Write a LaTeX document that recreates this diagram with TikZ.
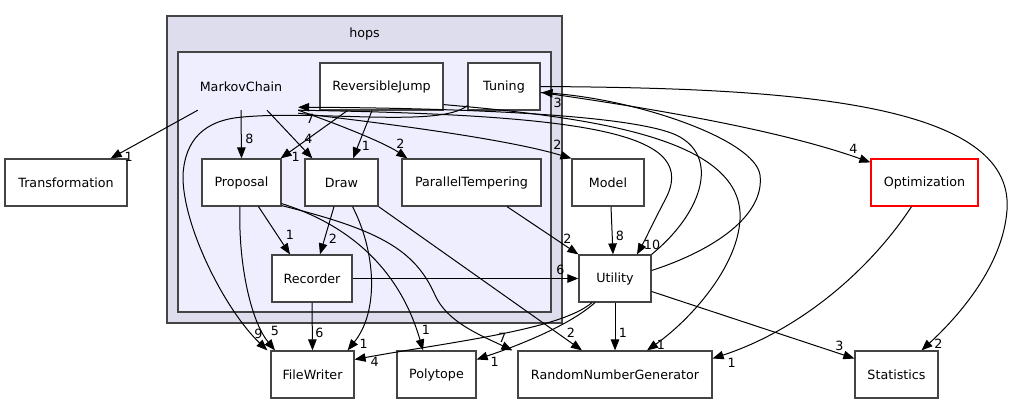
\documentclass[tikz,border=0pt]{standalone}
\usepackage{fontspec}
\setmainfont{DejaVu Sans}
\usetikzlibrary{arrows.meta}

\definecolor{hopsfill}{HTML}{DDDDEE}
\definecolor{chainfill}{HTML}{EEEEFF}
\definecolor{framegray}{HTML}{444444}

\begin{document}
\begin{tikzpicture}[x=1pt, y=-1pt,
  font=\fontsize{12.7}{15}\selectfont,
  dirbox/.style={draw=framegray, fill=white, line width=1.2pt, inner sep=0pt, minimum height=47pt},
  cluster/.style={draw=framegray, line width=1.5pt, inner sep=0pt},
  dep/.style={-{Triangle[length=11pt,width=8.5pt]}, line width=1pt},
  num/.style={inner sep=0pt}]

\useasboundingbox (0,0) rectangle (1012,404);

% Directory clusters
\node[cluster, fill=hopsfill, minimum width=395pt, minimum height=307pt] (hops) at (364.5,169.5) {};
\node (hopslabel) at (364.5,34) {hops};
\node[cluster, fill=chainfill, minimum width=373pt, minimum height=260pt] (chain) at (364.5,182) {};

% Directory nodes
\node[minimum width=114pt, minimum height=47pt, inner sep=0pt] (markovchain) at (241,86.5) {MarkovChain};
\node[dirbox, minimum width=123pt] (reversiblejump) at (381.5,86.5) {ReversibleJump};
\node[dirbox, minimum width=72pt] (tuning) at (504,86.5) {Tuning};
\node[dirbox, minimum width=79pt] (proposal) at (241.5,182.5) {Proposal};
\node[dirbox, minimum width=73pt] (draw) at (341.5,182.5) {Draw};
\node[dirbox, minimum width=139pt] (paralleltempering) at (471.5,182.5) {ParallelTempering};
\node[dirbox, minimum width=80pt] (recorder) at (312,278.5) {Recorder};
\node[dirbox, minimum width=72pt] (model) at (608,182.5) {Model};
\node[dirbox, minimum width=72pt] (utility) at (615,278.5) {Utility};
\node[dirbox, minimum width=122pt] (transformation) at (66,182.5) {Transformation};
\node[dirbox, draw=red, minimum width=107pt] (optimization) at (924.5,182.5) {Optimization};
\node[dirbox, minimum width=83pt] (filewriter) at (312.5,374.5) {FileWriter};
\node[dirbox, minimum width=79pt] (polytope) at (436.5,374.5) {Polytope};
\node[dirbox, minimum width=194pt] (randomnumbergenerator) at (615,374.5) {RandomNumberGenerator};
\node[dirbox, minimum width=83pt] (statistics) at (896.5,374.5) {Statistics};

% Dependencies inside hops
\draw[dep] ([shift={(14,0)}]markovchain.south west) -- ([shift={(-17,0)}]transformation.north east) node[num, at end, shift={(18,-2)}] {1};
\draw[dep] (markovchain.south) -- (proposal.north) node[num, at end, shift={(8,-20)}] {8};
\draw[dep] ([shift={(26,0)}]markovchain.south) -- ([shift={(8,0)}]draw.north west) node[num, at end, shift={(-4,-20)}] {4};
\draw[dep] ([shift={(28,0)}]reversiblejump.south west) -- ([shift={(-1,0)}]proposal.north east) node[num, at end, shift={(15,-2)}] {1};
\draw[dep] ([shift={(-9.5,0)}]reversiblejump.south) -- ([shift={(11.5,0)}]draw.north) node[num, at end, shift={(13,-13)}] {1};
\draw[dep] (markovchain.south east) .. controls (340,125) and (385,143) .. ([shift={(6,0)}]paralleltempering.north west) node[num, at end, shift={(-7,-15)}] {2};
\draw[dep] ([shift={(0,3)}]markovchain.south east) .. controls (400,125) and (510,140) .. (model.north west) node[num, at end, shift={(-14,-14)}] {2};
\draw[dep] (markovchain.south east) .. controls (600,115) and (700,135) .. (665,200) .. controls (656,217) and (645,240) .. ([shift={(22,0)}]utility.north) node[num, at end, shift={(15,-10)}] {10};
\draw[dep] (utility.north east) .. controls (700,215) and (720,160) .. (680,137) .. controls (640,114) and (450,108) .. ([shift={(0,-3)}]markovchain.south east) node[num, at end, shift={(12,12)}] {7};
\draw[dep] ([shift={(0,-6)}]reversiblejump.south east) .. controls (600,118) and (745,140) .. (740,220) .. controls (737,268) and (690,320) .. ([shift={(32,0)}]randomnumbergenerator.north) node[num, at end, shift={(14,-6)}] {1};
\draw[dep] ([shift={(0,-8)}]utility.east) .. controls (715,250) and (765,215) .. (760,175) .. controls (755,140) and (640,100) .. ([shift={(1,6)}]tuning.east) node[num, at end, shift={(16,10)}] {3};
\draw[dep] ([shift={(0,6)}]tuning.east) .. controls (650,108) and (780,130) .. ([shift={(0,4)}]optimization.north west) node[num, at end, shift={(-17,-14)}] {4};
\draw[dep] (tuning.east) .. controls (780,88) and (1015,100) .. (1007,210) .. controls (1003,265) and (960,315) .. ([shift={(25,0)}]statistics.north) node[num, at end, shift={(17,-7)}] {2};
\draw[dep] ([shift={(-13,0)}]optimization.south) .. controls (870,270) and (800,330) .. ([shift={(0,-16)}]randomnumbergenerator.east) node[num, at end, shift={(19,4)}] {1};

% Dependencies towards Recorder and Utility
\draw[dep] ([shift={(17,0)}]proposal.south) -- ([shift={(-22,0)}]recorder.north) node[num, at end, shift={(0,-20)}] {1};
\draw[dep] ([shift={(-7.5,0)}]draw.south) -- ([shift={(8,0)}]recorder.north) node[num, at end, shift={(13,-16)}] {2};
\draw[dep] ([shift={(35.5,0)}]paralleltempering.south) -- (utility.north west) node[num, at end, shift={(-11,-16)}] {2};
\draw[dep] ([shift={(3,0)}]model.south) -- ([shift={(-2,0)}]utility.north) node[num, at end, shift={(7,-19)}] {8};
\draw[dep] (recorder.east) -- (utility.west) node[num, at end, shift={(-18,-9)}] {6};

% Dependencies towards the bottom row
\draw[dep] ([shift={(0,-5)}]tuning.south west) .. controls (440,128) and (320,110) .. (243,117) .. controls (204,120) and (185,140) .. (183,175) .. controls (182,225) and (225,310) .. ([shift={(-3,0)}]filewriter.north west) node[num, at end, shift={(-9,-17)}] {9};
\draw[dep] ([shift={(-1.5,0)}]proposal.south) .. controls (238,260) and (250,320) .. ([shift={(-37.5,0)}]filewriter.north) node[num, at end, shift={(0,-19)}] {5};
\draw[dep] (recorder.south) -- (filewriter.north) node[num, at end, shift={(7,-18)}] {6};
\draw[dep] ([shift={(11,0)}]draw.south) .. controls (375,250) and (380,310) .. ([shift={(-7,0)}]filewriter.north east) node[num, at end, shift={(16,-7)}] {1};
\draw[dep] ([shift={(-23,0)}]utility.south) .. controls (560,330) and (450,342) .. ([shift={(0,-15)}]filewriter.east) node[num, at end, shift={(20,2)}] {4};
\draw[dep] ([shift={(-20,0)}]utility.south) .. controls (570,325) and (520,345) .. ([shift={(0,-15)}]polytope.east) node[num, at end, shift={(18,2)}] {1};
\draw[dep] ([shift={(0,-3)}]proposal.south east) .. controls (350,225) and (400,270) .. ([shift={(-13.5,0)}]polytope.north) node[num, at end, shift={(3,-21)}] {1};
\draw[dep] ([shift={(0,-1)}]proposal.south east) .. controls (380,230) and (415,250) .. (435,295) .. controls (447,322) and (480,335) .. ([shift={(-5,0)}]randomnumbergenerator.north west) node[num, at end, shift={(-10,-13)}] {7};
\draw[dep] (draw.south east) -- ([shift={(-33,0)}]randomnumbergenerator.north) node[num, at end, shift={(-11,-18)}] {2};
\draw[dep] (utility.south) -- (randomnumbergenerator.north) node[num, at end, shift={(8,-18)}] {1};
\draw[dep] ([shift={(0,13)}]utility.east) -- ([shift={(0,-16)}]statistics.west) node[num, at end, shift={(-15,-13)}] {3};

\end{tikzpicture}
\end{document}
